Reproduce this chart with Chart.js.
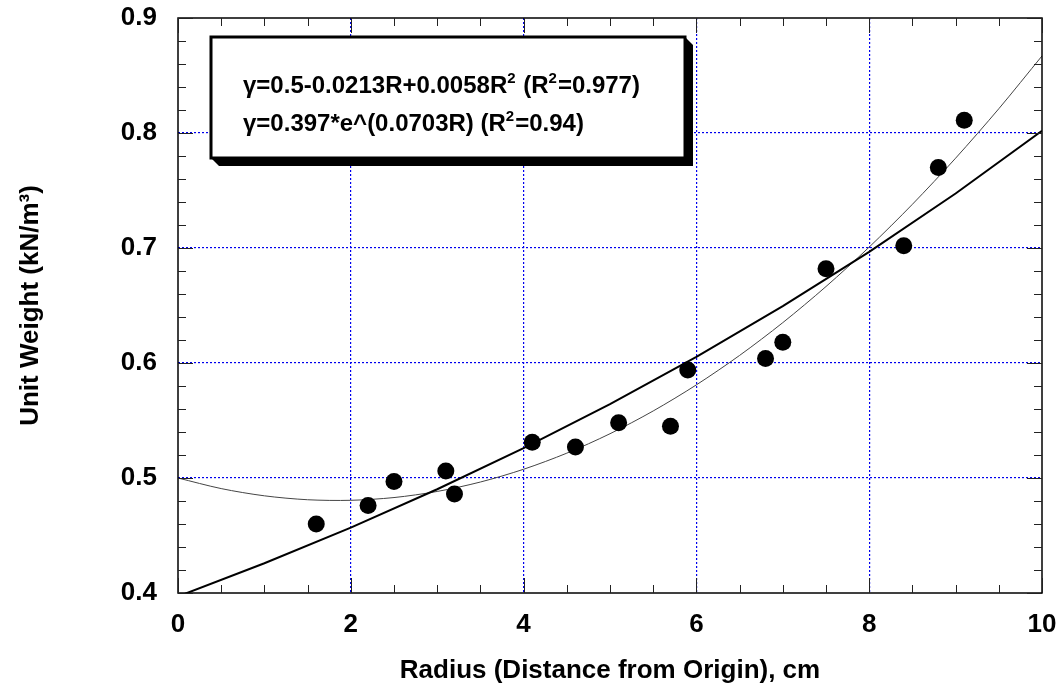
<!DOCTYPE html>
<html>
<head>
<meta charset="utf-8">
<script src="https://cdn.jsdelivr.net/npm/chart.js@4.4.1/dist/chart.umd.min.js"></script>
<style>
  html, body { margin: 0; padding: 0; background: #fff; }
  #wrap { width: 1063px; height: 700px; }
</style>
</head>
<body>
<div id="wrap"><canvas id="chartCanvas" width="1063" height="700"></canvas></div>
<script>
// measured points: radius (cm) and unit weight
const radius = [1.6, 2.2, 2.5, 3.1, 3.2, 4.1, 4.6, 5.1, 5.7, 5.9, 6.8, 7.0, 7.5, 8.4, 8.8, 9.1];
const unitWeight = [0.46, 0.476, 0.497, 0.506, 0.486, 0.531, 0.527, 0.548, 0.545, 0.594, 0.604, 0.618, 0.682, 0.702, 0.770, 0.811];

// quadratic fit, sampled every 0.5 cm
const quadR = [0, 0.5, 1, 1.5, 2, 2.5, 3, 3.5, 4, 4.5, 5, 5.5, 6, 6.5, 7, 7.5, 8, 8.5, 9, 9.5, 10];
const quadY = [0.5, 0.4908, 0.4845, 0.4811, 0.4806, 0.4830, 0.4883, 0.4965, 0.5076, 0.5216, 0.5385,
               0.5583, 0.5810, 0.6066, 0.6351, 0.6665, 0.7008, 0.7380, 0.7781, 0.8211, 0.867];

// exponential fit, sampled every 1 cm
const expR = [0, 1, 2, 3, 4, 5, 6, 7, 8, 9, 10];
const expY = [0.397, 0.4259, 0.4569, 0.4902, 0.5259, 0.5642, 0.6053, 0.6494, 0.6967, 0.7474, 0.8019];

const xTicks = [0, 2, 4, 6, 8, 10];
const yTicks = [0.4, 0.5, 0.6, 0.7, 0.8, 0.9];

// legend lines, split where the superscript 2 goes
const eqLines = [
    ['γ=0.5-0.0213R+0.0058R', '2', ' (R', '2', '=0.977)'],
    ['γ=0.397*e^(0.0703R) (R', '2', '=0.94)']
];

const FONT = "'Liberation Sans', Arial, sans-serif";

function toXY(xs, ys) {
    return xs.map((x, i) => ({ x: x, y: ys[i] }));
}

// frame, inward ticks on all four sides, and the equation box
const framePlugin = {
    id: 'frame',
    afterDatasetsDraw(chart) {
        const ctx = chart.ctx;
        const a = chart.chartArea;
        const xs = chart.scales.x, ys = chart.scales.y;
        ctx.save();
        ctx.strokeStyle = '#000';
        ctx.lineWidth = 1.5;
        ctx.strokeRect(a.left, a.top, a.right - a.left, a.bottom - a.top);

        ctx.lineWidth = 1;
        ctx.strokeStyle = '#222';
        ctx.beginPath();
        for (let v = 0; v <= 10.001; v += 0.5) {
            const px = Math.round(xs.getPixelForValue(v)) + 0.5;
            const len = Math.abs(v % 2) < 0.01 ? 15 : 8;
            ctx.moveTo(px, a.bottom); ctx.lineTo(px, a.bottom - len);
            ctx.moveTo(px, a.top); ctx.lineTo(px, a.top + len);
        }
        for (let i = 0; i <= 25; i++) {
            const v = 0.4 + i * 0.02;
            const py = Math.round(ys.getPixelForValue(v)) + 0.5;
            const len = i % 5 === 0 ? 15 : 8;
            ctx.moveTo(a.left, py); ctx.lineTo(a.left + len, py);
            ctx.moveTo(a.right, py); ctx.lineTo(a.right - len, py);
        }
        ctx.stroke();

        // equation box with drop shadow
        const bx = a.left + 33, by = a.top + 19, bw = 474, bh = 121, sh = 8;
        ctx.fillStyle = '#000';
        ctx.beginPath();
        ctx.moveTo(bx, by + bh);
        ctx.lineTo(bx + sh, by + bh + sh);
        ctx.lineTo(bx + bw + sh, by + bh + sh);
        ctx.lineTo(bx + bw + sh, by + sh);
        ctx.lineTo(bx + bw, by);
        ctx.closePath();
        ctx.fill();
        ctx.fillStyle = '#fff';
        ctx.fillRect(bx, by, bw, bh);
        ctx.lineWidth = 3;
        ctx.strokeStyle = '#000';
        ctx.strokeRect(bx, by, bw, bh);

        ctx.fillStyle = '#000';
        ctx.textBaseline = 'alphabetic';
        const baselines = [by + 56, by + 94];
        eqLines.forEach((parts, li) => {
            let x = bx + 32;
            parts.forEach(p => {
                const sup = p === '2';
                ctx.font = 'bold ' + (sup ? 15 : 24) + 'px ' + FONT;
                ctx.fillText(p, x, baselines[li] - (sup ? 10 : 0));
                x += ctx.measureText(p).width + (sup ? 1 : 0);
            });
        });
        ctx.restore();
    }
};

const ctx = document.getElementById('chartCanvas').getContext('2d');
new Chart(ctx, {
    type: 'scatter',
    data: {
        datasets: [
            {
                label: 'Quadratic fit',
                data: toXY(quadR, quadY),
                showLine: true,
                borderColor: '#444',
                borderWidth: 1,
                pointRadius: 0,
                tension: 0.3,
                order: 3
            },
            {
                label: 'Exponential fit',
                data: toXY(expR, expY),
                showLine: true,
                borderColor: '#000',
                borderWidth: 2,
                pointRadius: 0,
                tension: 0,
                order: 2
            },
            {
                label: 'Unit weight',
                data: toXY(radius, unitWeight),
                backgroundColor: '#000',
                borderWidth: 0,
                pointRadius: 8.5,
                pointHoverRadius: 8.5,
                order: 1
            }
        ]
    },
    options: {
        responsive: false,
        animation: false,
        events: [],
        layout: { padding: { top: 18, right: 21, left: 0, bottom: 0 } },
        plugins: {
            legend: { display: false },
            tooltip: { enabled: false }
        },
        scales: {
            x: {
                type: 'linear',
                min: 0,
                max: 10,
                afterFit(scale) {
                    scale.height = 107;
                    scale.paddingLeft = 0;
                    scale.paddingRight = 0;
                },
                afterBuildTicks(scale) { scale.ticks = xTicks.map(v => ({ value: v })); },
                ticks: {
                    padding: 16,
                    color: '#000',
                    font: { family: FONT, size: 26, weight: 'bold' },
                    callback: v => String(v)
                },
                grid: {
                    drawTicks: false,
                    lineWidth: 1.2,
                    color: c => (c.tick && (c.tick.value === 0 || c.tick.value === 10)) ? 'rgba(0,0,0,0)' : '#0000ee'
                },
                border: { display: false, dash: [2, 2] },
                title: {
                    display: true,
                    text: 'Radius (Distance from Origin), cm',
                    color: '#000',
                    font: { family: FONT, size: 26, weight: 'bold' },
                    padding: { top: 0, bottom: 14 }
                }
            },
            y: {
                type: 'linear',
                min: 0.4,
                max: 0.9,
                afterFit(scale) {
                    scale.width = 178;
                    scale.paddingTop = 0;
                    scale.paddingBottom = 0;
                },
                afterBuildTicks(scale) { scale.ticks = yTicks.map(v => ({ value: v })); },
                ticks: {
                    padding: 21,
                    color: '#000',
                    font: { family: FONT, size: 26, weight: 'bold' },
                    callback: v => v.toFixed(1)
                },
                grid: {
                    drawTicks: false,
                    lineWidth: 1.2,
                    color: c => (c.tick && (Math.abs(c.tick.value - 0.4) < 1e-6 || Math.abs(c.tick.value - 0.9) < 1e-6)) ? 'rgba(0,0,0,0)' : '#0000ee'
                },
                border: { display: false, dash: [2, 2] },
                title: {
                    display: true,
                    text: 'Unit Weight (kN/m³)',
                    color: '#000',
                    font: { family: FONT, size: 26, weight: 'bold' },
                    padding: { top: 15, bottom: 0 }
                }
            }
        }
    },
    plugins: [framePlugin]
});
</script>
</body>
</html>
